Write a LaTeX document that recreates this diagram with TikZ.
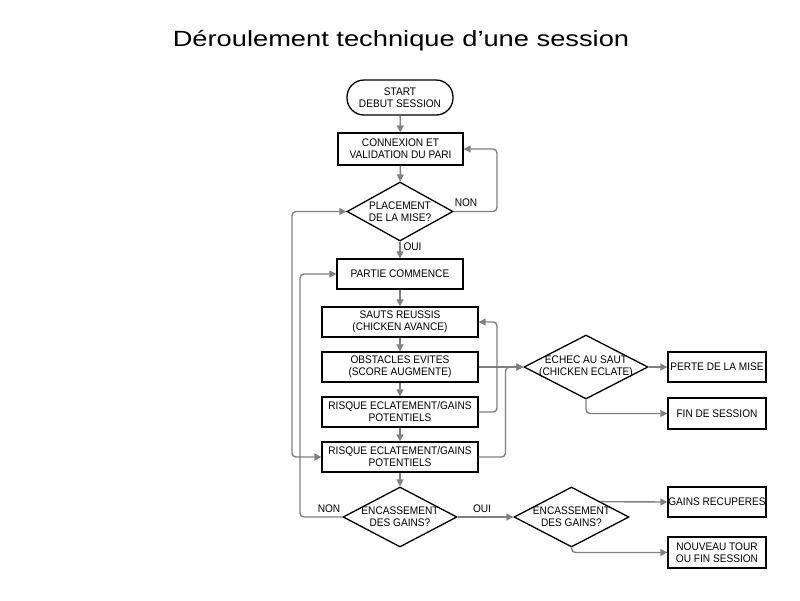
\documentclass[tikz,border=0pt]{standalone}
\usepackage{fontspec}
\setmainfont{Liberation Sans}
\newfontfamily\boxfont[FakeStretch=0.92]{Liberation Sans}
\newfontfamily\titlefont[FakeStretch=1.24]{Liberation Sans}
\usetikzlibrary{shapes.geometric,arrows.meta}
\definecolor{arrgray}{RGB}{128,128,128}
\begin{document}
\begin{tikzpicture}[x=1pt,y=-1pt,
  txt/.style={font=\boxfont\fontsize{11}{12}\selectfont,align=center,inner sep=0pt},
  box/.style={draw=black,line width=1.3pt,minimum width=#1,minimum height=30pt,inner sep=0pt,align=center,font=\boxfont\fontsize{11}{12}\selectfont},
  box/.default=156,
  dia/.style={draw=black,line width=1.3pt,diamond,inner sep=0pt},
  arr/.style={draw=arrgray,line width=1.4pt,-{Triangle[length=7pt,width=7pt]},rounded corners=4pt},
  darr/.style={draw=arrgray,line width=1.4pt,{Triangle[length=7pt,width=7pt]}-{Triangle[length=7pt,width=7pt]},rounded corners=4pt}
]
\useasboundingbox (0,0) rectangle (800,600);
\fill[white] (0,0) rectangle (800,600);

\node[inner sep=0pt] (title) at (401,41) {\titlefont\fontsize{22}{26}\selectfont Déroulement technique d’une session};

\node[box=106,minimum height=35pt,rounded corners=17pt] (start) at (400,97.5) {START\\DEBUT SESSION};
\node[box=125,minimum height=32pt] (conn) at (400.5,149) {CONNEXION ET\\VALIDATION DU PARI};
\node[dia,minimum width=106pt,minimum height=59pt] (place) at (400,211.5) {};
\node[txt] (placetxt) at (place) {PLACEMENT\\DE LA MISE?};
\node[box=126] (partie) at (400,274) {PARTIE COMMENCE};
\node[box] (sauts) at (400,322) {SAUTS REUSSIS\\(CHICKEN AVANCE)};
\node[box] (obst) at (400,367) {OBSTACLES EVITES\\(SCORE AUGMENTE)};
\node[box] (risk1) at (400,412) {RISQUE ECLATEMENT/GAINS\\POTENTIELS};
\node[box] (risk2) at (400,457) {RISQUE ECLATEMENT/GAINS\\POTENTIELS};
\node[dia,minimum width=114pt,minimum height=60pt] (enc1) at (400,517) {};
\node[txt] (enc1txt) at (enc1) {ENCASSEMENT\\DES GAINS?};
\node[dia,minimum width=115pt,minimum height=60pt] (enc2) at (571.5,517) {};
\node[txt] (enc2txt) at (enc2) {ENCASSEMENT\\DES GAINS?};
\node[dia,minimum width=124pt,minimum height=64pt] (echec) at (586,367) {};
\node[txt] (echectxt) at (echec) {ECHEC AU SAUT\\(CHICKEN ECLATE)};
\node[box=98] (perte) at (717,367) {PERTE DE LA MISE};
\node[box=98,minimum height=31pt] (fin) at (717,413.5) {FIN DE SESSION};
\node[box=98] (gains) at (717,502) {GAINS RECUPERES};
\node[box=98,minimum height=31pt] (nouveau) at (717,552.5) {NOUVEAU TOUR\\OU FIN SESSION};

\coordinate (r1) at (497,149);
\coordinate (r2) at (497,322);
\coordinate (r3) at (505.5,367);
\coordinate (l1) at (300,274);
\coordinate (l2) at (292,211.5);

\draw[arr] (start) -- (conn);
\draw[arr] (conn) -- (place);
\draw[arr] (place.east) -| (r1) -- (conn.east);
\node[txt] (non1) at (466,203) {NON};
\draw[arr] (place.south) -- (partie.north);
\node[txt] (oui1) at (412.5,247) {OUI};
\draw[arr] (partie) -- (sauts);
\draw[arr] (sauts) -- (obst);
\draw[arr] (obst) -- (risk1);
\draw[arr] (risk1) -- (risk2);
\draw[arr] (risk2.south) -- (enc1.north);
\draw[arr] (risk1.east) -| (r2) -- (sauts.east);
\draw[arr] (obst.east) -- (echec.west);
\draw[arr] (risk2.east) -| (r3) -- (echec.west);
\draw[arr] (echec.east) -- (perte.west);
\draw[arr] (echec.south) |- (fin.west);
\draw[arr] (enc1.east) -- (enc2.west);
\node[txt] (oui2) at (482,509) {OUI};
\draw[arr] (enc2.north east) -- (gains.west);
\draw[arr] (enc2.south) |- (nouveau.west);
\draw[arr] (enc1.west) -| (l1) -- (partie.west);
\node[txt] (non2) at (329,509) {NON};
\draw[darr] (risk2.west) -| (l2) -- (place.west);
\end{tikzpicture}
\end{document}
